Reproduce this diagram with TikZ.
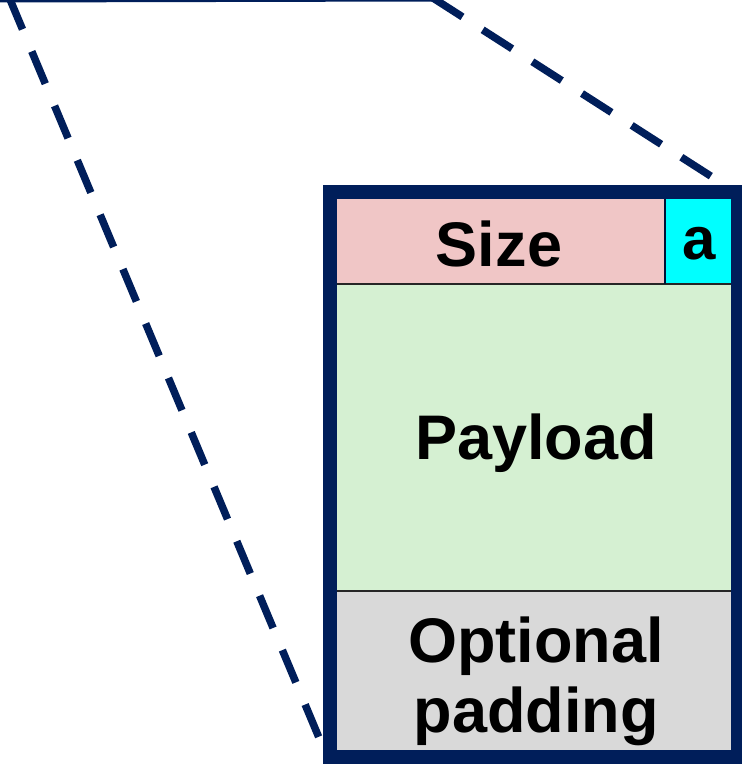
\documentclass[tikz,border=0pt]{standalone}
\usepackage{fontspec}
\setmainfont{Liberation Sans}
\definecolor{navy}{HTML}{001E5A}
\definecolor{sizepink}{HTML}{F0C6C6}
\definecolor{paygreen}{HTML}{D5F0D2}
\definecolor{padgray}{HTML}{D9D9D9}
\definecolor{acyan}{HTML}{00FFFF}
\begin{document}
\begin{tikzpicture}[x=1pt,y=-1pt,
  zoomline/.style={draw=navy,line width=7.5pt,dash pattern=on 35pt off 24pt},
  lbl/.style={font=\fontsize{63}{70}\selectfont\bfseries,align=center,text=black}]
\useasboundingbox (0,0) rectangle (742,764);
\coordinate (tl) at (9,-3);
\coordinate (tr) at (433,-2);
\coordinate (bl) at (325,752);
\coordinate (br) at (720,182);
% top edge (clipped) of the upper box
\draw[navy,line width=7pt,line join=round] (-5,-1) -- (tr);
% zoom dashed lines
\draw[zoomline] (tl) -- (bl);
\draw[zoomline] (tr) -- (br);
% cells
\fill[sizepink] (337,199) rectangle (665,284);
\fill[acyan] (665,199) rectangle (731,284);
\fill[paygreen] (337,284) rectangle (731,591);
\fill[padgray] (337,591) rectangle (731,750);
\draw[black!85,line width=1.8pt] (337,284) -- (731,284);
\draw[black!85,line width=1.8pt] (337,591) -- (731,591);
\draw[navy!60!black,line width=1.8pt] (665,199) -- (665,284);
% text
\node[lbl] (size) at (499,244) {Size};
\node[lbl,font=\fontsize{60}{66}\selectfont\bfseries] (a) at (699,244) {a};
\node[lbl] (payload) at (536,443) {Payload};
\node[lbl] (pad) at (536,681) {Optional\\padding};
% outer frame
\draw[navy,line width=14pt] (330,192) rectangle (738,757);
\end{tikzpicture}
\end{document}
